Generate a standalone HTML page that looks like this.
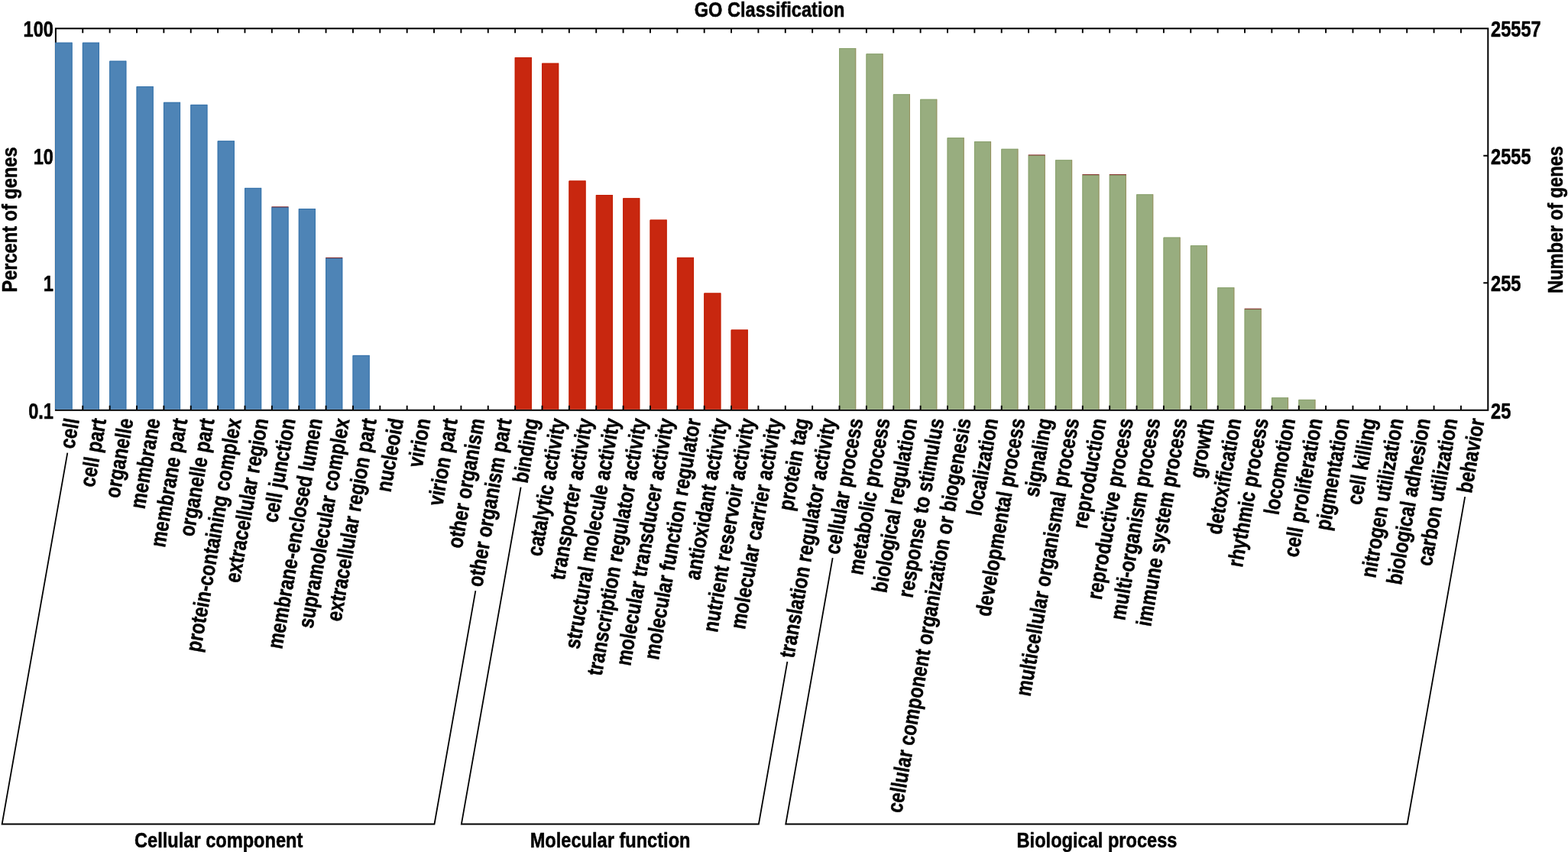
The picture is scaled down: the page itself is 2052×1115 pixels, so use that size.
<!DOCTYPE html>
<html lang="en"><head><meta charset="utf-8"><title>GO Classification</title>
<style>
html,body{margin:0;padding:0;background:#fff;}
svg{display:block;}
text{font-family:"Liberation Sans",sans-serif;font-weight:bold;fill:#000;stroke:#000;stroke-width:0.5px;stroke-linejoin:round;vector-effect:non-scaling-stroke;}
</style></head>
<body>
<svg width="2052" height="1115" viewBox="0 0 2052 1115">
<rect x="0" y="0" width="2052" height="1115" fill="#ffffff"/>
<g stroke="#000" stroke-width="2.0" fill="none" stroke-linecap="butt">
<rect x="72.9" y="37.3" width="1874.40" height="499.50"/>
</g>
<g>
<rect x="72.00" y="55.70" width="22.60" height="480.10" fill="#4e84b6"/>
<path d="M72.50 535.8V56.20H94.10" fill="none" stroke="#3572aa" stroke-width="1"/>
<path d="M94.10 55.70V535.8" fill="none" stroke="#3572aa" stroke-width="1"/>
<rect x="107.87" y="55.70" width="22.10" height="480.10" fill="#4e84b6"/>
<path d="M108.37 535.8V56.20H129.47" fill="none" stroke="#3572aa" stroke-width="1"/>
<path d="M129.47 55.70V535.8" fill="none" stroke="#3572aa" stroke-width="1"/>
<rect x="143.23" y="79.70" width="22.10" height="456.10" fill="#4e84b6"/>
<path d="M143.73 535.8V80.20H164.83" fill="none" stroke="#3572aa" stroke-width="1"/>
<path d="M164.83 79.70V535.8" fill="none" stroke="#3572aa" stroke-width="1"/>
<rect x="178.60" y="113.00" width="22.10" height="422.80" fill="#4e84b6"/>
<path d="M179.10 535.8V113.50H200.20" fill="none" stroke="#3572aa" stroke-width="1"/>
<path d="M200.20 113.00V535.8" fill="none" stroke="#3572aa" stroke-width="1"/>
<rect x="213.96" y="133.80" width="22.10" height="402.00" fill="#4e84b6"/>
<path d="M214.46 535.8V134.30H235.56" fill="none" stroke="#3572aa" stroke-width="1"/>
<path d="M235.56 133.80V535.8" fill="none" stroke="#3572aa" stroke-width="1"/>
<rect x="249.33" y="136.90" width="22.10" height="398.90" fill="#4e84b6"/>
<path d="M249.83 535.8V137.40H270.93" fill="none" stroke="#3572aa" stroke-width="1"/>
<path d="M270.93 136.90V535.8" fill="none" stroke="#3572aa" stroke-width="1"/>
<rect x="284.70" y="184.30" width="22.10" height="351.50" fill="#4e84b6"/>
<path d="M285.20 535.8V184.80H306.30" fill="none" stroke="#3572aa" stroke-width="1"/>
<path d="M306.30 184.30V535.8" fill="none" stroke="#3572aa" stroke-width="1"/>
<rect x="320.06" y="245.90" width="22.10" height="289.90" fill="#4e84b6"/>
<path d="M320.56 535.8V246.40H341.66" fill="none" stroke="#3572aa" stroke-width="1"/>
<path d="M341.66 245.90V535.8" fill="none" stroke="#3572aa" stroke-width="1"/>
<rect x="355.43" y="270.90" width="22.10" height="264.90" fill="#4e84b6"/>
<path d="M355.93 535.8V271.40H377.03" fill="none" stroke="#3572aa" stroke-width="1"/>
<path d="M377.03 270.90V535.8" fill="none" stroke="#3572aa" stroke-width="1"/>
<path d="M355.43 270.80h22.10" fill="none" stroke="#7c1414" stroke-width="0.9"/>
<rect x="390.79" y="273.00" width="22.10" height="262.80" fill="#4e84b6"/>
<path d="M391.29 535.8V273.50H412.39" fill="none" stroke="#3572aa" stroke-width="1"/>
<path d="M412.39 273.00V535.8" fill="none" stroke="#3572aa" stroke-width="1"/>
<rect x="426.16" y="337.50" width="22.10" height="198.30" fill="#4e84b6"/>
<path d="M426.66 535.8V338.00H447.76" fill="none" stroke="#3572aa" stroke-width="1"/>
<path d="M447.76 337.50V535.8" fill="none" stroke="#3572aa" stroke-width="1"/>
<path d="M426.16 337.40h22.10" fill="none" stroke="#7c1414" stroke-width="0.9"/>
<rect x="461.53" y="464.90" width="22.10" height="70.90" fill="#4e84b6"/>
<path d="M462.03 535.8V465.40H483.13" fill="none" stroke="#3572aa" stroke-width="1"/>
<path d="M483.13 464.90V535.8" fill="none" stroke="#3572aa" stroke-width="1"/>
<rect x="673.72" y="75.00" width="22.10" height="460.80" fill="#c8270f"/>
<path d="M674.22 535.8V75.50H695.32" fill="none" stroke="#c21d02" stroke-width="1"/>
<path d="M695.32 75.00V535.8" fill="none" stroke="#c21d02" stroke-width="1"/>
<rect x="709.09" y="82.70" width="22.10" height="453.10" fill="#c8270f"/>
<path d="M709.59 535.8V83.20H730.69" fill="none" stroke="#c21d02" stroke-width="1"/>
<path d="M730.69 82.70V535.8" fill="none" stroke="#c21d02" stroke-width="1"/>
<rect x="744.45" y="236.50" width="22.10" height="299.30" fill="#c8270f"/>
<path d="M744.95 535.8V237.00H766.05" fill="none" stroke="#c21d02" stroke-width="1"/>
<path d="M766.05 236.50V535.8" fill="none" stroke="#c21d02" stroke-width="1"/>
<rect x="779.82" y="255.10" width="22.10" height="280.70" fill="#c8270f"/>
<path d="M780.32 535.8V255.60H801.42" fill="none" stroke="#c21d02" stroke-width="1"/>
<path d="M801.42 255.10V535.8" fill="none" stroke="#c21d02" stroke-width="1"/>
<rect x="815.19" y="259.30" width="22.10" height="276.50" fill="#c8270f"/>
<path d="M815.69 535.8V259.80H836.79" fill="none" stroke="#c21d02" stroke-width="1"/>
<path d="M836.79 259.30V535.8" fill="none" stroke="#c21d02" stroke-width="1"/>
<rect x="850.55" y="287.60" width="22.10" height="248.20" fill="#c8270f"/>
<path d="M851.05 535.8V288.10H872.15" fill="none" stroke="#c21d02" stroke-width="1"/>
<path d="M872.15 287.60V535.8" fill="none" stroke="#c21d02" stroke-width="1"/>
<rect x="885.92" y="336.90" width="22.10" height="198.90" fill="#c8270f"/>
<path d="M886.42 535.8V337.40H907.52" fill="none" stroke="#c21d02" stroke-width="1"/>
<path d="M907.52 336.90V535.8" fill="none" stroke="#c21d02" stroke-width="1"/>
<rect x="921.28" y="383.50" width="22.10" height="152.30" fill="#c8270f"/>
<path d="M921.78 535.8V384.00H942.88" fill="none" stroke="#c21d02" stroke-width="1"/>
<path d="M942.88 383.50V535.8" fill="none" stroke="#c21d02" stroke-width="1"/>
<rect x="956.65" y="431.50" width="22.10" height="104.30" fill="#c8270f"/>
<path d="M957.15 535.8V432.00H978.25" fill="none" stroke="#c21d02" stroke-width="1"/>
<path d="M978.25 431.50V535.8" fill="none" stroke="#c21d02" stroke-width="1"/>
<rect x="1098.12" y="63.00" width="22.10" height="472.80" fill="#98ad7f"/>
<path d="M1098.62 535.8V63.50H1119.72" fill="none" stroke="#8aa26e" stroke-width="1"/>
<path d="M1119.72 63.00V535.8" fill="none" stroke="#97915f" stroke-width="1"/>
<rect x="1133.48" y="70.30" width="22.10" height="465.50" fill="#98ad7f"/>
<path d="M1133.98 535.8V70.80H1155.08" fill="none" stroke="#8aa26e" stroke-width="1"/>
<path d="M1155.08 70.30V535.8" fill="none" stroke="#97915f" stroke-width="1"/>
<rect x="1168.85" y="123.30" width="22.10" height="412.50" fill="#98ad7f"/>
<path d="M1169.35 535.8V123.80H1190.45" fill="none" stroke="#8aa26e" stroke-width="1"/>
<path d="M1190.45 123.30V535.8" fill="none" stroke="#97915f" stroke-width="1"/>
<rect x="1204.21" y="129.80" width="22.10" height="406.00" fill="#98ad7f"/>
<path d="M1204.71 535.8V130.30H1225.81" fill="none" stroke="#8aa26e" stroke-width="1"/>
<path d="M1225.81 129.80V535.8" fill="none" stroke="#97915f" stroke-width="1"/>
<rect x="1239.58" y="180.10" width="22.10" height="355.70" fill="#98ad7f"/>
<path d="M1240.08 535.8V180.60H1261.18" fill="none" stroke="#8aa26e" stroke-width="1"/>
<path d="M1261.18 180.10V535.8" fill="none" stroke="#97915f" stroke-width="1"/>
<rect x="1274.95" y="185.10" width="22.10" height="350.70" fill="#98ad7f"/>
<path d="M1275.45 535.8V185.60H1296.55" fill="none" stroke="#8aa26e" stroke-width="1"/>
<path d="M1296.55 185.10V535.8" fill="none" stroke="#97915f" stroke-width="1"/>
<rect x="1310.31" y="194.80" width="22.10" height="341.00" fill="#98ad7f"/>
<path d="M1310.81 535.8V195.30H1331.91" fill="none" stroke="#8aa26e" stroke-width="1"/>
<path d="M1331.91 194.80V535.8" fill="none" stroke="#97915f" stroke-width="1"/>
<rect x="1345.68" y="203.00" width="22.10" height="332.80" fill="#98ad7f"/>
<path d="M1346.18 535.8V203.50H1367.28" fill="none" stroke="#8aa26e" stroke-width="1"/>
<path d="M1367.28 203.00V535.8" fill="none" stroke="#97915f" stroke-width="1"/>
<path d="M1345.68 202.90h22.10" fill="none" stroke="#7c1414" stroke-width="0.9"/>
<rect x="1381.04" y="209.30" width="22.10" height="326.50" fill="#98ad7f"/>
<path d="M1381.54 535.8V209.80H1402.64" fill="none" stroke="#8aa26e" stroke-width="1"/>
<path d="M1402.64 209.30V535.8" fill="none" stroke="#97915f" stroke-width="1"/>
<rect x="1416.41" y="228.70" width="22.10" height="307.10" fill="#98ad7f"/>
<path d="M1416.91 535.8V229.20H1438.01" fill="none" stroke="#8aa26e" stroke-width="1"/>
<path d="M1438.01 228.70V535.8" fill="none" stroke="#97915f" stroke-width="1"/>
<path d="M1416.41 228.60h22.10" fill="none" stroke="#7c1414" stroke-width="0.9"/>
<rect x="1451.78" y="228.70" width="22.10" height="307.10" fill="#98ad7f"/>
<path d="M1452.28 535.8V229.20H1473.38" fill="none" stroke="#8aa26e" stroke-width="1"/>
<path d="M1473.38 228.70V535.8" fill="none" stroke="#97915f" stroke-width="1"/>
<path d="M1451.78 228.60h22.10" fill="none" stroke="#7c1414" stroke-width="0.9"/>
<rect x="1487.14" y="254.30" width="22.10" height="281.50" fill="#98ad7f"/>
<path d="M1487.64 535.8V254.80H1508.74" fill="none" stroke="#8aa26e" stroke-width="1"/>
<path d="M1508.74 254.30V535.8" fill="none" stroke="#97915f" stroke-width="1"/>
<rect x="1522.51" y="310.60" width="22.10" height="225.20" fill="#98ad7f"/>
<path d="M1523.01 535.8V311.10H1544.11" fill="none" stroke="#8aa26e" stroke-width="1"/>
<path d="M1544.11 310.60V535.8" fill="none" stroke="#97915f" stroke-width="1"/>
<rect x="1557.87" y="321.20" width="22.10" height="214.60" fill="#98ad7f"/>
<path d="M1558.37 535.8V321.70H1579.47" fill="none" stroke="#8aa26e" stroke-width="1"/>
<path d="M1579.47 321.20V535.8" fill="none" stroke="#97915f" stroke-width="1"/>
<rect x="1593.24" y="376.20" width="22.10" height="159.60" fill="#98ad7f"/>
<path d="M1593.74 535.8V376.70H1614.84" fill="none" stroke="#8aa26e" stroke-width="1"/>
<path d="M1614.84 376.20V535.8" fill="none" stroke="#97915f" stroke-width="1"/>
<rect x="1628.61" y="404.30" width="22.10" height="131.50" fill="#98ad7f"/>
<path d="M1629.11 535.8V404.80H1650.21" fill="none" stroke="#8aa26e" stroke-width="1"/>
<path d="M1650.21 404.30V535.8" fill="none" stroke="#97915f" stroke-width="1"/>
<path d="M1628.61 404.20h22.10" fill="none" stroke="#7c1414" stroke-width="0.9"/>
<rect x="1663.97" y="520.30" width="22.10" height="15.50" fill="#98ad7f"/>
<path d="M1664.47 535.8V520.80H1685.57" fill="none" stroke="#8aa26e" stroke-width="1"/>
<path d="M1685.57 520.30V535.8" fill="none" stroke="#97915f" stroke-width="1"/>
<rect x="1699.34" y="522.90" width="22.10" height="12.90" fill="#98ad7f"/>
<path d="M1699.84 535.8V523.40H1720.94" fill="none" stroke="#8aa26e" stroke-width="1"/>
<path d="M1720.94 522.90V535.8" fill="none" stroke="#97915f" stroke-width="1"/>
</g>
<g stroke="#000" stroke-width="1.9" fill="none">
<path d="M108.27 37.3v6.0M108.27 536.8v-6.0M143.63 37.3v6.0M143.63 536.8v-6.0M179.00 37.3v6.0M179.00 536.8v-6.0M214.36 37.3v6.0M214.36 536.8v-6.0M249.73 37.3v6.0M249.73 536.8v-6.0M285.10 37.3v6.0M285.10 536.8v-6.0M320.46 37.3v6.0M320.46 536.8v-6.0M355.83 37.3v6.0M355.83 536.8v-6.0M391.19 37.3v6.0M391.19 536.8v-6.0M426.56 37.3v6.0M426.56 536.8v-6.0M461.93 37.3v6.0M461.93 536.8v-6.0M497.29 37.3v6.0M497.29 536.8v-6.0M532.66 37.3v6.0M532.66 536.8v-6.0M568.02 37.3v6.0M568.02 536.8v-6.0M603.39 37.3v6.0M603.39 536.8v-6.0M638.76 37.3v6.0M638.76 536.8v-6.0M674.12 37.3v6.0M674.12 536.8v-6.0M709.49 37.3v6.0M709.49 536.8v-6.0M744.85 37.3v6.0M744.85 536.8v-6.0M780.22 37.3v6.0M780.22 536.8v-6.0M815.59 37.3v6.0M815.59 536.8v-6.0M850.95 37.3v6.0M850.95 536.8v-6.0M886.32 37.3v6.0M886.32 536.8v-6.0M921.68 37.3v6.0M921.68 536.8v-6.0M957.05 37.3v6.0M957.05 536.8v-6.0M992.42 37.3v6.0M992.42 536.8v-6.0M1027.78 37.3v6.0M1027.78 536.8v-6.0M1063.15 37.3v6.0M1063.15 536.8v-6.0M1098.52 37.3v6.0M1098.52 536.8v-6.0M1133.88 37.3v6.0M1133.88 536.8v-6.0M1169.25 37.3v6.0M1169.25 536.8v-6.0M1204.61 37.3v6.0M1204.61 536.8v-6.0M1239.98 37.3v6.0M1239.98 536.8v-6.0M1275.35 37.3v6.0M1275.35 536.8v-6.0M1310.71 37.3v6.0M1310.71 536.8v-6.0M1346.08 37.3v6.0M1346.08 536.8v-6.0M1381.44 37.3v6.0M1381.44 536.8v-6.0M1416.81 37.3v6.0M1416.81 536.8v-6.0M1452.18 37.3v6.0M1452.18 536.8v-6.0M1487.54 37.3v6.0M1487.54 536.8v-6.0M1522.91 37.3v6.0M1522.91 536.8v-6.0M1558.27 37.3v6.0M1558.27 536.8v-6.0M1593.64 37.3v6.0M1593.64 536.8v-6.0M1629.01 37.3v6.0M1629.01 536.8v-6.0M1664.37 37.3v6.0M1664.37 536.8v-6.0M1699.74 37.3v6.0M1699.74 536.8v-6.0M1735.10 37.3v6.0M1735.10 536.8v-6.0M1770.47 37.3v6.0M1770.47 536.8v-6.0M1805.84 37.3v6.0M1805.84 536.8v-6.0M1841.20 37.3v6.0M1841.20 536.8v-6.0M1876.57 37.3v6.0M1876.57 536.8v-6.0M1911.93 37.3v6.0M1911.93 536.8v-6.0M1947.3 203.80h-6.0M1947.3 370.30h-6.0"/>
</g>
<g font-size="28.4">
<text font-size="29.4" transform="translate(70.0 48.30) scale(0.803 1)" text-anchor="end">100</text>
<text font-size="29.4" transform="translate(1951.0 48.30) scale(0.803 1)">25557</text>
<text font-size="29.4" transform="translate(70.0 214.80) scale(0.803 1)" text-anchor="end">10</text>
<text font-size="29.4" transform="translate(1951.0 214.80) scale(0.803 1)">2555</text>
<text font-size="29.4" transform="translate(70.0 381.30) scale(0.803 1)" text-anchor="end">1</text>
<text font-size="29.4" transform="translate(1951.0 381.30) scale(0.803 1)">255</text>
<text font-size="29.4" transform="translate(70.0 547.80) scale(0.803 1)" text-anchor="end">0.1</text>
<text font-size="29.4" transform="translate(1951.0 547.80) scale(0.803 1)">25</text>
<text transform="translate(1007.0 22.2) scale(0.831 1)" text-anchor="middle">GO Classification</text>
<text transform="translate(21.7 287.5) rotate(-90) scale(0.831 1)" text-anchor="middle">Percent of genes</text>
<text transform="translate(2045.0 287.5) rotate(-90) scale(0.831 1)" text-anchor="middle">Number of genes</text>
<text transform="translate(286.2 1108.6) scale(0.831 1)" text-anchor="middle">Cellular component</text>
<text transform="translate(798.6 1108.6) scale(0.831 1)" text-anchor="middle">Molecular function</text>
<text transform="translate(1435.5 1108.6) scale(0.831 1)" text-anchor="middle">Biological process</text>
</g>
<g class="lab" font-size="28.4" text-anchor="end">
<text transform="translate(103.80 549.40) rotate(-80.0) scale(0.831 1)">cell</text>
<text transform="translate(139.17 549.40) rotate(-80.0) scale(0.831 1)">cell part</text>
<text transform="translate(174.53 549.40) rotate(-80.0) scale(0.831 1)">organelle</text>
<text transform="translate(209.90 549.40) rotate(-80.0) scale(0.831 1)">membrane</text>
<text transform="translate(245.26 549.40) rotate(-80.0) scale(0.831 1)">membrane part</text>
<text transform="translate(280.63 549.40) rotate(-80.0) scale(0.831 1)">organelle part</text>
<text transform="translate(316.00 549.40) rotate(-80.0) scale(0.831 1)">protein-containing complex</text>
<text transform="translate(351.36 549.40) rotate(-80.0) scale(0.831 1)">extracellular region</text>
<text transform="translate(386.73 549.40) rotate(-80.0) scale(0.831 1)">cell junction</text>
<text transform="translate(422.09 549.40) rotate(-80.0) scale(0.831 1)">membrane-enclosed lumen</text>
<text transform="translate(457.46 549.40) rotate(-80.0) scale(0.831 1)">supramolecular complex</text>
<text transform="translate(492.83 549.40) rotate(-80.0) scale(0.831 1)">extracellular region part</text>
<text transform="translate(528.19 549.40) rotate(-80.0) scale(0.831 1)">nucleoid</text>
<text transform="translate(563.56 549.40) rotate(-80.0) scale(0.831 1)">virion</text>
<text transform="translate(598.92 549.40) rotate(-80.0) scale(0.831 1)">virion part</text>
<text transform="translate(634.29 549.40) rotate(-80.0) scale(0.831 1)">other organism</text>
<text transform="translate(669.66 549.40) rotate(-80.0) scale(0.831 1)">other organism part</text>
<text transform="translate(705.02 549.40) rotate(-80.0) scale(0.831 1)">binding</text>
<text transform="translate(740.39 549.40) rotate(-80.0) scale(0.831 1)">catalytic activity</text>
<text transform="translate(775.75 549.40) rotate(-80.0) scale(0.831 1)">transporter activity</text>
<text transform="translate(811.12 549.40) rotate(-80.0) scale(0.831 1)">structural molecule activity</text>
<text transform="translate(846.49 549.40) rotate(-80.0) scale(0.831 1)">transcription regulator activity</text>
<text transform="translate(881.85 549.40) rotate(-80.0) scale(0.831 1)">molecular transducer activity</text>
<text transform="translate(917.22 549.40) rotate(-80.0) scale(0.831 1)">molecular function regulator</text>
<text transform="translate(952.58 549.40) rotate(-80.0) scale(0.831 1)">antioxidant activity</text>
<text transform="translate(987.95 549.40) rotate(-80.0) scale(0.831 1)">nutrient reservoir activity</text>
<text transform="translate(1023.32 549.40) rotate(-80.0) scale(0.831 1)">molecular carrier activity</text>
<text transform="translate(1058.68 549.40) rotate(-80.0) scale(0.831 1)">protein tag</text>
<text transform="translate(1094.05 549.40) rotate(-80.0) scale(0.831 1)">translation regulator activity</text>
<text transform="translate(1129.42 549.40) rotate(-80.0) scale(0.831 1)">cellular process</text>
<text transform="translate(1164.78 549.40) rotate(-80.0) scale(0.831 1)">metabolic process</text>
<text transform="translate(1200.15 549.40) rotate(-80.0) scale(0.831 1)">biological regulation</text>
<text transform="translate(1235.51 549.40) rotate(-80.0) scale(0.831 1)">response to stimulus</text>
<text transform="translate(1270.88 549.40) rotate(-80.0) scale(0.831 1)">cellular component organization or biogenesis</text>
<text transform="translate(1306.25 549.40) rotate(-80.0) scale(0.831 1)">localization</text>
<text transform="translate(1341.61 549.40) rotate(-80.0) scale(0.831 1)">developmental process</text>
<text transform="translate(1376.98 549.40) rotate(-80.0) scale(0.831 1)">signaling</text>
<text transform="translate(1412.34 549.40) rotate(-80.0) scale(0.831 1)">multicellular organismal process</text>
<text transform="translate(1447.71 549.40) rotate(-80.0) scale(0.831 1)">reproduction</text>
<text transform="translate(1483.08 549.40) rotate(-80.0) scale(0.831 1)">reproductive process</text>
<text transform="translate(1518.44 549.40) rotate(-80.0) scale(0.831 1)">multi-organism process</text>
<text transform="translate(1553.81 549.40) rotate(-80.0) scale(0.831 1)">immune system process</text>
<text transform="translate(1589.17 549.40) rotate(-80.0) scale(0.831 1)">growth</text>
<text transform="translate(1624.54 549.40) rotate(-80.0) scale(0.831 1)">detoxification</text>
<text transform="translate(1659.91 549.40) rotate(-80.0) scale(0.831 1)">rhythmic process</text>
<text transform="translate(1695.27 549.40) rotate(-80.0) scale(0.831 1)">locomotion</text>
<text transform="translate(1730.64 549.40) rotate(-80.0) scale(0.831 1)">cell proliferation</text>
<text transform="translate(1766.00 549.40) rotate(-80.0) scale(0.831 1)">pigmentation</text>
<text transform="translate(1801.37 549.40) rotate(-80.0) scale(0.831 1)">cell killing</text>
<text transform="translate(1836.74 549.40) rotate(-80.0) scale(0.831 1)">nitrogen utilization</text>
<text transform="translate(1872.10 549.40) rotate(-80.0) scale(0.831 1)">biological adhesion</text>
<text transform="translate(1907.47 549.40) rotate(-80.0) scale(0.831 1)">carbon utilization</text>
<text transform="translate(1942.83 549.40) rotate(-80.0) scale(0.831 1)">behavior</text>
</g>
<g stroke="#000" stroke-width="1.8" fill="none" stroke-linejoin="miter">
<path d="M88.31 592.60L2.63 1078.5L568.49 1078.5L622.34 773.10"/>
<path d="M681.60 637.60L603.85 1078.5L992.88 1078.5L1030.38 865.80"/>
<path d="M1089.66 730.20L1028.25 1078.5L1841.66 1078.5L1917.18 650.20"/>
</g>
</svg>
</body></html>
